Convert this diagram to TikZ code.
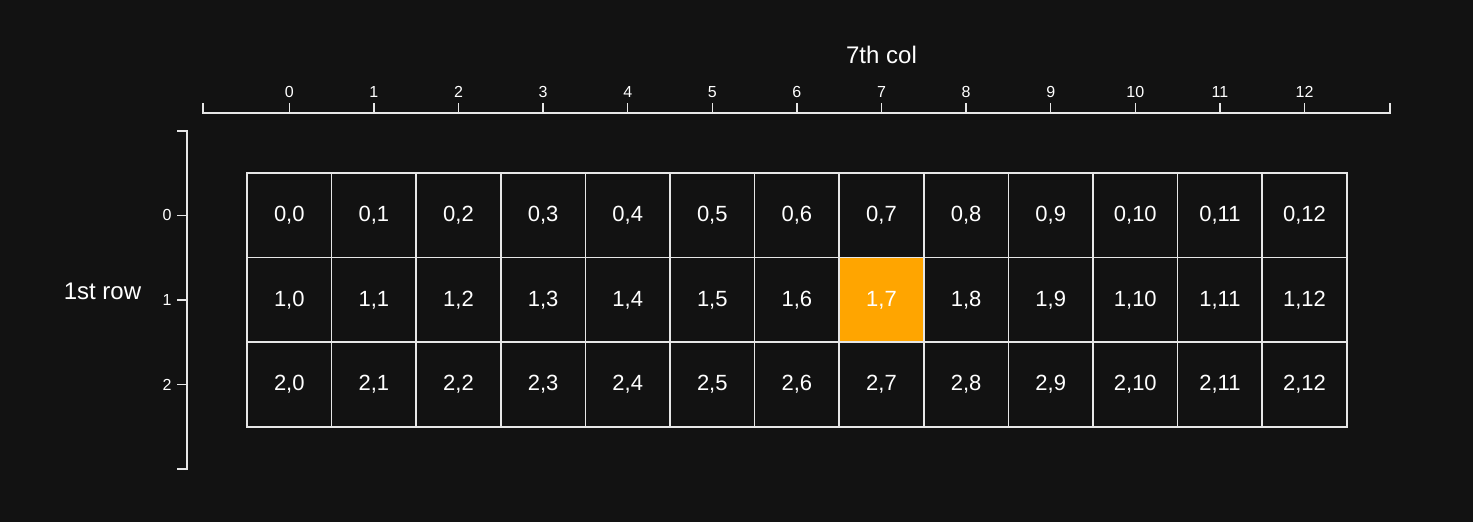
\documentclass[tikz,border=0pt]{standalone}
\usepackage{fontspec}
\setmainfont{Liberation Sans}
\usepackage{xcolor}
\usetikzlibrary{positioning}
\definecolor{bgc}{HTML}{121212}
\definecolor{linec}{HTML}{E6E6E6}
\definecolor{hic}{HTML}{FFA500}
\tikzset{
  cell/.style={draw=linec,line width=1.1pt,minimum size=63.45pt,inner sep=0pt,text=white,font=\fontsize{16.5}{18}\selectfont},
  ax/.style={linec,line width=1.1pt},
  tk/.style={text=white,inner sep=0pt,font=\fontsize{12}{14}\selectfont},
  lbl/.style={text=white,inner sep=0pt,font=\fontsize{18}{20}\selectfont}
}
\begin{document}
\begin{tikzpicture}[x=63.45pt,y=-63.45pt]
\fill[bgc] (-2.9196,-2.0449) rectangle (14.4917,4.1253);
\useasboundingbox (-2.9196,-2.0449) rectangle (14.4917,4.1253);
% grid of cells
\foreach \r in {0,1,2}{
 \foreach \c in {0,...,12}{
  \ifnum\r=1 \ifnum\c=7 \def\fc{hic}\else\def\fc{bgc}\fi\else\def\fc{bgc}\fi
  \node[cell,fill=\fc] (c\r-\c) at (\c+0.5,\r+0.5) {\r,\c};}}
% column axis
\draw[ax] (-0.52,-0.827) -- (-0.52,-0.709) -- (13.51,-0.709) -- (13.51,-0.827);
\foreach \c in {0,...,12}{
 \draw[ax] (\c+0.5,-0.709) -- ++(0,-0.118);
 \node[tk] (tx\c) at (\c+0.5,-0.96) {\c};}
\node[lbl] (colname) at (7.5,-1.40) {7th col};
% row axis
\draw[ax] (-0.827,-0.496) -- (-0.709,-0.496) -- (-0.709,3.50) -- (-0.827,3.50);
\foreach \r in {0,1,2}{
 \draw[ax] (-0.709,\r+0.5) -- ++(-0.118,0);
 \node[tk] (ty\r) at (-0.946,\r+0.5) {\r};}
\node[lbl] (rowname) at (-1.708,1.40) {1st row};
\end{tikzpicture}
\end{document}
